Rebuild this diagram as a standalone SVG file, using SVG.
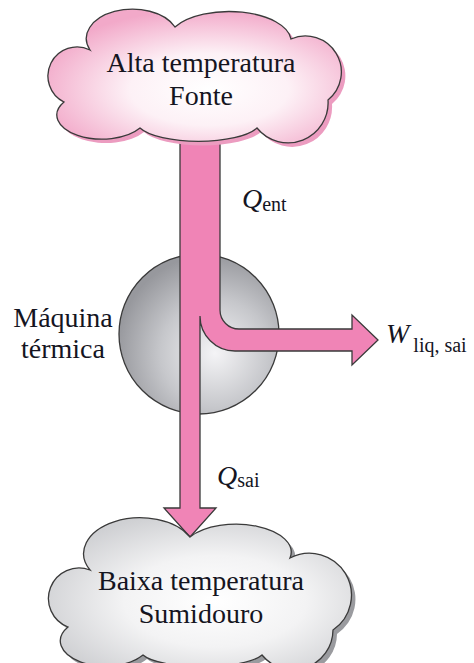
<svg xmlns="http://www.w3.org/2000/svg" width="474" height="663" viewBox="0 0 474 663">
<defs>
<radialGradient id="gPink" cx="0.55" cy="0.6" r="0.6">
<stop offset="0" stop-color="#ffffff"/>
<stop offset="0.45" stop-color="#fdf1f6"/>
<stop offset="1" stop-color="#f2a9c9"/>
</radialGradient>
<radialGradient id="gGrey" cx="0.55" cy="0.55" r="0.6">
<stop offset="0" stop-color="#ffffff"/>
<stop offset="0.5" stop-color="#f3f3f4"/>
<stop offset="1" stop-color="#cfd0d3"/>
</radialGradient>
<radialGradient id="gSphere" cx="0.6" cy="0.62" r="0.62">
<stop offset="0" stop-color="#f4f4f6"/>
<stop offset="0.55" stop-color="#c6c7cb"/>
<stop offset="1" stop-color="#97989d"/>
</radialGradient>
<path id="cloudTop" d="M 90,50 A 44,28 0 0 1 175,27 A 62,30 0 0 1 291,39 A 36,36 0 0 1 328,100 A 40,40 0 0 1 257,128 A 62,20 0 0 1 140,128 A 45,24 0 0 1 64,102 A 29,29 0 0 1 90,50 Z"/>
<path id="cloudBot" d="M 90,570 A 52,33 0 0 1 190,537 A 55,28 0 0 1 290,558 A 42,42 0 0 1 333,630 A 40,40 0 0 1 262,655 A 62,16 0 0 1 143,655 A 45,25 0 0 1 68,627 A 30,30 0 0 1 90,570 Z"/>
</defs>
<style>
text{font-family:"Liberation Serif","Times New Roman","DejaVu Serif",serif;fill:#15151f}
.lbl{font-size:28px}
.it{font-style:italic;font-size:28px}
.sub{font-size:20px}
.outline{stroke:#3a3a3a;stroke-width:1.3}
</style>
<g id="engine">
<circle cx="199" cy="334" r="80" fill="url(#gSphere)" class="outline"/>
</g>
<g id="connectors">
<path d="M 180,125 L 220,125 L 220,310 A 19,19 0 0 0 239,329 L 352,329 L 352,315 L 378,340 L 352,365 L 352,351 L 235,351 A 35,35 0 0 1 200,316 L 200,508 L 216,508 L 190,537 L 164,508 L 180,508 Z" fill="#f084b6" class="outline"/>
</g>
<g id="source">
<use href="#cloudTop" transform="translate(4,4)" fill="#ec9cc0"/>
<use href="#cloudTop" fill="url(#gPink)" class="outline"/>
<text class="lbl" x="201" y="72" text-anchor="middle">Alta temperatura</text>
<text class="lbl" x="201" y="105" text-anchor="middle">Fonte</text>
</g>
<g id="sink">
<use href="#cloudBot" transform="translate(4,4)" fill="#9a9b9f"/>
<use href="#cloudBot" fill="url(#gGrey)" class="outline"/>
<text class="lbl" x="201" y="590" text-anchor="middle">Baixa temperatura</text>
<text class="lbl" x="201" y="623" text-anchor="middle">Sumidouro</text>
</g>
<g id="labels">
<text class="lbl" x="63" y="327" text-anchor="middle">Máquina</text>
<text class="lbl" x="63" y="358" text-anchor="middle">térmica</text>
<text x="242" y="208"><tspan class="it">Q</tspan><tspan class="sub" dy="3">ent</tspan></text>
<text x="217" y="485"><tspan class="it">Q</tspan><tspan class="sub" dy="2">sai</tspan></text>
<text x="386" y="343"><tspan class="it">W</tspan><tspan class="sub" dx="4" dy="9">liq, sai</tspan></text>
</g>
</svg>
